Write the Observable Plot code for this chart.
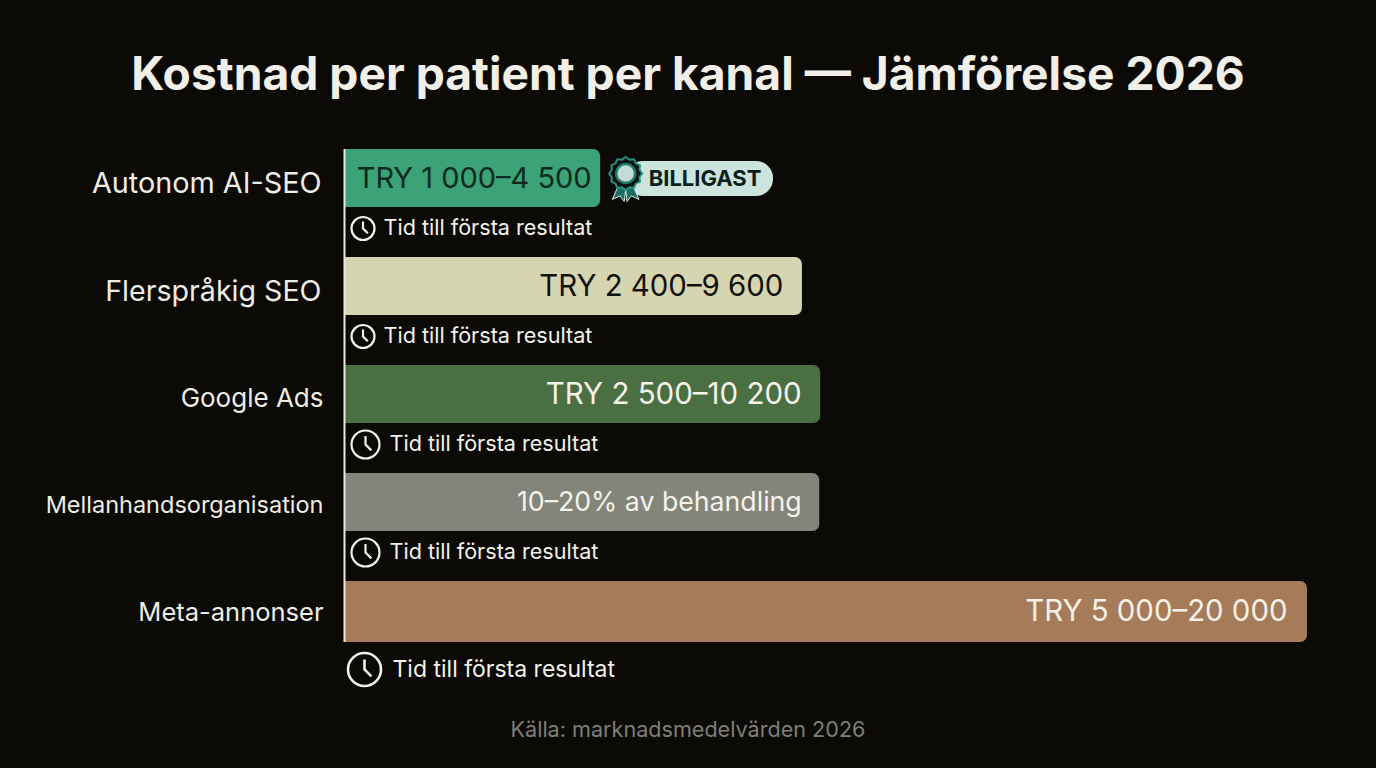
<!DOCTYPE html>
<html lang="sv">
<head>
<meta charset="utf-8">
<script src="https://cdn.jsdelivr.net/npm/d3@7"></script>
<script src="https://cdn.jsdelivr.net/npm/@observablehq/plot@0.6"></script>
<style>
  html, body { margin: 0; padding: 0; background: #0b0a07; width: 1376px; height: 768px; overflow: hidden; }
  body { font-family: Inter, sans-serif; }
  #title { height: 130px; box-sizing: border-box; padding-top: 42px; text-align: center; color: #f1efe8; font-size: 46.2px; font-weight: 700; line-height: 62px; }
  #source { position: absolute; left: 0; right: 0; top: 715px; text-align: center; color: #7f7e77; font-size: 21.6px; line-height: 28px; }
  svg { display: block; }
</style>
</head>
<body>
<div id="title">Kostnad per patient per kanal — Jämförelse 2026</div>
<div id="chart"></div>
<div id="source">Källa: marknadsmedelvärden 2026</div>
<script>
const channels = ["Autonom AI-SEO", "Flerspråkig SEO", "Google Ads", "Mellanhandsorganisation", "Meta-annonser"];
const barLengths = [5320, 9510, 9890, 9870, 20000];
const valueLabels = ["TRY 1 000–4 500", "TRY 2 400–9 600", "TRY 2 500–10 200", "10–20% av behandling", "TRY 5 000–20 000"];
const timeLabel = "Tid till första resultat";
const badgeLabel = "BILLIGAST";

const rows = channels.map((c, i) => ({channel: c, length: barLengths[i], value: valueLabels[i]}));
const fills = d3.scaleOrdinal(channels, ["#3ca277", "#d6d5b2", "#4a6f42", "#84857a", "#a67b5a"]);
const textFills = d3.scaleOrdinal(channels, ["#0c2a1e", "#12120e", "#f4f2ea", "#f4f2ea", "#f6f1e6"]);

function clockSymbol(r) {
  return {
    draw(ctx) {
      ctx.moveTo(r, 0);
      ctx.arc(0, 0, r, 0, 2 * Math.PI);
      ctx.moveTo(0, -r * 0.6);
      ctx.lineTo(0, 0);
      ctx.lineTo(r * 0.42, r * 0.42);
    }
  };
}
function rosetteSymbol(r) {
  return {
    draw(ctx) {
      const n = 12;
      for (let i = 0; i <= n * 2; i++) {
        const a = (i / (n * 2)) * 2 * Math.PI;
        const q = i % 2 ? r * 0.87 : r;
        if (i === 0) ctx.moveTo(q * Math.cos(a), q * Math.sin(a));
        else ctx.lineTo(q * Math.cos(a), q * Math.sin(a));
      }
      ctx.closePath();
    }
  };
}
function ribbonSymbol(r) {
  return {
    draw(ctx) {
      ctx.moveTo(-r * 0.45, r * 0.7);
      ctx.lineTo(-r * 0.95, r * 1.85);
      ctx.lineTo(-r * 0.4, r * 1.6);
      ctx.lineTo(-r * 0.1, r * 2.0);
      ctx.lineTo(0.02 * r, r * 1.0);
      ctx.closePath();
      ctx.moveTo(r * 0.45, r * 0.7);
      ctx.lineTo(r * 0.95, r * 1.85);
      ctx.lineTo(r * 0.4, r * 1.6);
      ctx.lineTo(r * 0.1, r * 2.0);
      ctx.lineTo(-0.02 * r, r * 1.0);
      ctx.closePath();
    }
  };
}

const first = rows.slice(0, 1), second = rows.slice(1, 2), third = rows.slice(2, 3), fourth = rows.slice(3, 4), last = rows.slice(4);
const labelMark = (data, fontSize, dx, dy) => Plot.text(data, {
  x: 0, y: "channel", text: "channel", textAnchor: "end", dx, dy,
  fill: "#eeece4", fontSize, fontFamily: "Inter", fontWeight: 400
});
const valueMark = (data, fontSize, dx, dy = 0) => Plot.text(data, {
  x: "length", y: "channel", text: "value", dx, dy, textAnchor: "end",
  fill: d => textFills(d.channel), fontSize, fontFamily: "Inter"
});
const timeMarks = (data, r, iconDx, textDx, dy, fontSize) => [
  Plot.dot(data, {x: 0, y: "channel", dx: iconDx, dy, symbol: clockSymbol(r), r: 10, fill: "none", stroke: "#f3f1ea", strokeWidth: r > 15 ? 2.6 : 2.2}),
  Plot.text(data, {x: 0, y: "channel", text: () => timeLabel, textAnchor: "start", dx: textDx, dy, fill: "#f3f1ea", fontSize, fontFamily: "Inter"})
];

const plot = Plot.plot({
  width: 1376, height: 570,
  marginLeft: 344, marginRight: 69, marginTop: 19, marginBottom: 61,
  style: {background: "transparent", fontFamily: "Inter"},
  x: {domain: [0, 20000], axis: null},
  y: {domain: channels, padding: 0.463, paddingOuter: 0, axis: null},
  marks: [
    Plot.barX(rows.slice(0, 4), {x: "length", y: "channel", fill: d => fills(d.channel), rx2: 7}),
    Plot.barX(last, {x: "length", y: "channel", fill: d => fills(d.channel), rx2: 7, insetBottom: -3}),
    Plot.ruleX([0], {stroke: "#e9e7df", strokeWidth: 2, insetBottom: -3}),
    // badge
    Plot.barX(first, {x1: () => 5860, x2: () => 8910, y: "channel", fill: "#cbe5de", rx: 17, insetTop: 12, insetBottom: 11}),
    Plot.dot(first, {x: "length", y: "channel", dx: 25, dy: -5, symbol: ribbonSymbol(14), r: 10, fill: "#1c6e62", stroke: "#d6ece6", strokeWidth: 1}),
    Plot.dot(first, {x: "length", y: "channel", dx: 25, dy: -5, symbol: rosetteSymbol(16.5), r: 10, fill: "#0b0f0d", stroke: "#2a9080", strokeWidth: 2}),
    Plot.dot(first, {x: "length", y: "channel", dx: 25, dy: -5, r: 9.5, fill: "#c3dcd5", stroke: "#1f7b6c", strokeWidth: 2.5}),
    Plot.text(first, {x: "length", y: "channel", text: () => badgeLabel, dx: 48, textAnchor: "start", fill: "#0d1f1a", fontSize: 22, fontWeight: 700, fontFamily: "Inter"}),
    // values
    valueMark(first, 29, -9),
    valueMark(second, 29.4, -19),
    valueMark(third, 29.5, -19),
    valueMark(fourth, 26.7, -18),
    valueMark(last, 29.4, -20, 1.5),
    // channel labels
    labelMark(first, 28.8, -23, 5),
    labelMark(second, 28.6, -23, 5),
    labelMark(third, 26, -21, 4),
    labelMark(fourth, 23.5, -21, 3),
    labelMark(last, 25.5, -21, 2),
    // time-to-result rows
    ...timeMarks(first.concat(second), 11.5, 18.5, 39, 50, 21.6),
    ...timeMarks(third.concat(fourth), 14, 21, 45, 50, 21.6),
    ...timeMarks(last, 16.5, 20, 48, 59, 23)
  ]
});
document.getElementById("chart").append(plot);
</script>
</body>
</html>
